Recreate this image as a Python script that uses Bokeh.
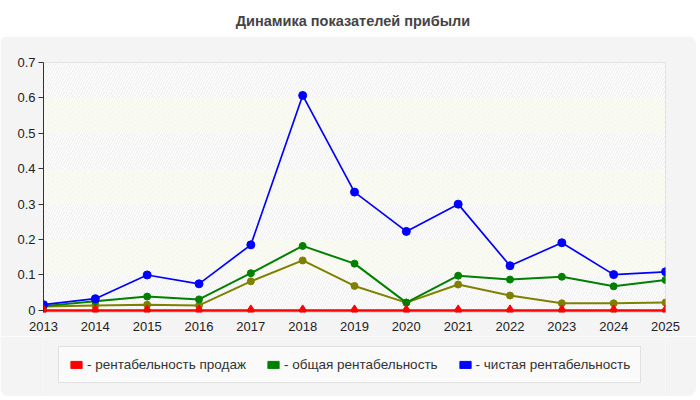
from bokeh.plotting import figure
from bokeh.models import ColumnDataSource, Legend, LegendItem, FixedTicker, Div
from bokeh.layouts import column
from bokeh.embed import file_html
from bokeh.resources import INLINE

# данные
years = [2013, 2014, 2015, 2016, 2017, 2018, 2019, 2020, 2021, 2022, 2023, 2024, 2025]
sales_margin = [0, 0, 0, 0, 0, 0, 0, 0, 0, 0, 0, 0, 0]
total_margin = [0.012, 0.026, 0.039, 0.031, 0.105, 0.182, 0.132, 0.022, 0.098, 0.087, 0.095, 0.068, 0.086]
net_margin = [0.016, 0.033, 0.100, 0.075, 0.185, 0.607, 0.334, 0.223, 0.300, 0.126, 0.191, 0.101, 0.109]
other_margin = [0.011, 0.014, 0.016, 0.014, 0.082, 0.141, 0.069, 0.022, 0.073, 0.042, 0.020, 0.020, 0.022]
y_ticks = [0, 0.1, 0.2, 0.3, 0.4, 0.5, 0.6, 0.7]
y_labels = ["0", "0.1", "0.2", "0.3", "0.4", "0.5", "0.6", "0.7"]
legend_labels = ["- рентабельность продаж", "- общая рентабельность", "- чистая рентабельность"]
legend_colors = ["#ff0000", "#008000", "#0000ff"]
title_text = "Динамика показателей прибыли"

FONT = "Liberation Sans"
PANEL = "#f4f4f4"

title = Div(text=title_text, width=696, height=26,
            styles={"font-family": FONT, "font-weight": "bold", "font-size": "14.5px",
                    "color": "#444", "text-align": "center", "width": "696px",
                    "line-height": "32px"})

p = figure(width=696, height=300, x_range=(years[0], years[-1]), y_range=(-0.006, y_ticks[-1]),
           output_backend="svg", toolbar_location=None, tools="",
           min_border_left=43, min_border_right=31, min_border_top=26, min_border_bottom=24,
           border_fill_color=PANEL, background_fill_color="#ffffff",
           styles={"border-top-left-radius": "8px", "border-top-right-radius": "8px", "overflow": "hidden"})
p.outline_line_color = "#d9d9d9"

# полосы фона
band_src = ColumnDataSource(dict(
    left=[years[0]] * (len(y_ticks) - 1),
    right=[years[-1]] * (len(y_ticks) - 1),
    bottom=y_ticks[:-1],
    top=y_ticks[1:],
    fill=["#ffffff" if i % 2 == 0 else "#fcfdf5" for i in range(len(y_ticks) - 1)],
    hatch=["#ebebeb" if i % 2 == 0 else "#f3f3ec" for i in range(len(y_ticks) - 1)],
))
p.quad(left="left", right="right", bottom="bottom", top="top", source=band_src,
       fill_color="fill", line_color=None, hatch_pattern="/", hatch_color="hatch",
       hatch_scale=5, hatch_weight=1)

p.xgrid.grid_line_color = "#dcdcdc"
p.ygrid.grid_line_color = "#dcdcdc"
p.xgrid.grid_line_dash = "4 4"
p.ygrid.grid_line_dash = "4 4"
p.xgrid.level = "underlay"
p.ygrid.level = "underlay"

p.xaxis.ticker = FixedTicker(ticks=years)
p.yaxis.ticker = FixedTicker(ticks=y_ticks)
p.yaxis.major_label_overrides = {t: l for t, l in zip(y_ticks, y_labels)}
for ax in (p.xaxis, p.yaxis):
    ax.major_label_text_font = FONT
    ax.major_label_text_font_size = "13px"
    ax.major_label_text_color = "#222222"
    ax.minor_tick_line_color = None
p.xaxis.axis_line_color = None
p.xaxis.major_tick_line_color = None
p.xaxis.major_label_standoff = 3
p.yaxis.axis_line_color = "#333333"
p.yaxis.major_tick_line_color = "#333333"
p.yaxis.major_tick_out = 5
p.yaxis.major_tick_in = 0
p.yaxis.major_label_standoff = 3

# линии
p.line(years, other_margin, line_color="#808000", line_width=2)
p.scatter(years, other_margin, marker="circle", size=7, color="#808000")
p.line(years, total_margin, line_color="#008000", line_width=2)
p.scatter(years, total_margin, marker="circle", size=7, color="#008000")
p.line(years, net_margin, line_color="#0000ff", line_width=1.7)
p.scatter(years, net_margin, marker="circle", size=8, color="#0000ff")
p.line(years, sales_margin, line_color="#ff0000", line_width=2.5)
p.scatter(years, sales_margin, marker="diamond", size=11, color="#ff0000")

# легенда — отдельная полоса под графиком
pl = figure(width=696, height=60, x_range=(0, 1), y_range=(0, 1),
            output_backend="svg", toolbar_location=None, tools="",
            x_axis_type=None, y_axis_type=None, min_border=0,
            border_fill_color=PANEL, background_fill_color=PANEL,
            styles={"border-bottom-left-radius": "8px", "border-bottom-right-radius": "8px", "overflow": "hidden"})
pl.outline_line_color = None
pl.xgrid.visible = False
pl.ygrid.visible = False

# образцы для легенды (вне видимой области)
swatch_src = ColumnDataSource(dict(left=[-3], right=[-2], bottom=[-3], top=[-2]))
items = []
for lab, col in zip(legend_labels, legend_colors):
    r = pl.quad(left="left", right="right", bottom="bottom", top="top", source=swatch_src,
                fill_color=col, line_color=col)
    items.append(LegendItem(label=lab, renderers=[r]))

legend = Legend(items=items, orientation="horizontal", location=(15, 13),
                label_text_font=FONT, label_text_font_size="13.5px", label_text_color="#333333",
                glyph_width=14, glyph_height=9, label_standoff=4, spacing=20,
                padding=10, margin=0, border_line_color="#c8c8c8",
                background_fill_color="#fafafa")
pl.add_layout(legend, "center")

layout = column(title, p, pl, spacing=0)
open("out.html", "w").write(file_html(layout, INLINE))
